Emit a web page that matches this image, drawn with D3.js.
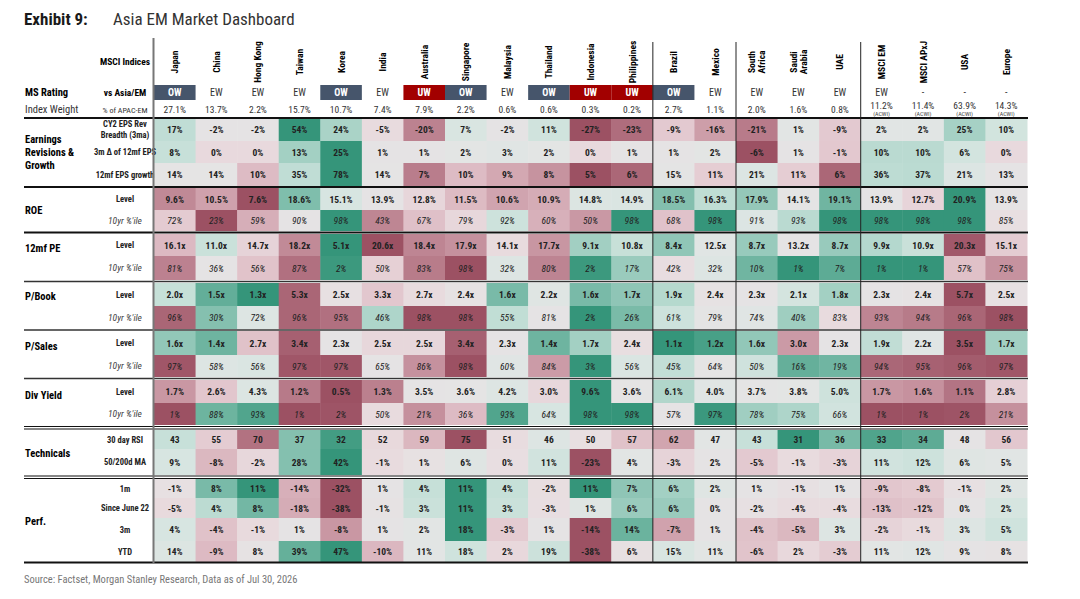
<!DOCTYPE html>
<html><head><meta charset="utf-8">
<script src="https://cdn.jsdelivr.net/npm/d3@7"></script>
<style>
body{margin:0;background:#fff;}
text{font-family:"Liberation Sans Narrow","Roboto Condensed",Roboto,sans-serif;}
</style></head>
<body><svg id="chart" width="1080" height="599"></svg>
<script>
const countries = ["Japan","China","Hong Kong","Taiwan","Korea","India","Australia","Singapore","Malaysia","Thailand","Indonesia","Philippines","Brazil","Mexico","South|Africa","Saudi|Arabia","UAE","MSCI EM","MSCI APxJ","USA","Europe"];
const ratings = ["OW","EW","EW","EW","OW","EW","UW","OW","EW","OW","UW","UW","OW","EW","EW","EW","EW","EW","-","-","-"];
const weights = ["27.1%","13.7%","2.2%","15.7%","10.7%","7.4%","7.9%","2.2%","0.6%","0.6%","0.3%","0.2%","2.7%","1.1%","2.0%","1.6%","0.8%","11.2%","11.4%","63.9%","14.3%"];

const epsBreadth = ["17%","-2%","-2%","54%","24%","-5%","-20%","7%","-2%","11%","-27%","-23%","-9%","-16%","-21%","1%","-9%","2%","2%","25%","10%"];
const epsDelta   = ["8%","0%","0%","13%","25%","1%","1%","2%","3%","2%","0%","1%","1%","2%","-6%","1%","-1%","10%","10%","6%","0%"];
const epsGrowth  = ["14%","14%","10%","35%","78%","14%","7%","10%","9%","8%","5%","6%","15%","11%","21%","11%","6%","36%","37%","21%","13%"];
const roeLevel   = ["9.6%","10.5%","7.6%","18.6%","15.1%","13.9%","12.8%","11.5%","10.6%","10.9%","14.8%","14.9%","18.5%","16.3%","17.9%","14.1%","19.1%","13.9%","12.7%","20.9%","13.9%"];
const roePct     = ["72%","23%","59%","90%","98%","43%","67%","79%","92%","60%","50%","98%","68%","98%","91%","93%","98%","98%","98%","98%","85%"];
const peLevel    = ["16.1x","11.0x","14.7x","18.2x","5.1x","20.6x","18.4x","17.9x","14.1x","17.7x","9.1x","10.8x","8.4x","12.5x","8.7x","13.2x","8.7x","9.9x","10.9x","20.3x","15.1x"];
const pePct      = ["81%","36%","56%","87%","2%","50%","83%","98%","32%","80%","2%","17%","42%","32%","10%","1%","7%","1%","1%","57%","75%"];
const pbLevel    = ["2.0x","1.5x","1.3x","5.3x","2.5x","3.3x","2.7x","2.4x","1.6x","2.2x","1.6x","1.7x","1.9x","2.4x","2.3x","2.1x","1.8x","2.3x","2.4x","5.7x","2.5x"];
const pbPct      = ["96%","30%","72%","96%","95%","46%","98%","98%","55%","81%","2%","26%","61%","79%","74%","40%","83%","93%","94%","96%","98%"];
const psLevel    = ["1.6x","1.4x","2.7x","3.4x","2.3x","2.5x","2.5x","3.4x","2.3x","1.4x","1.7x","2.4x","1.1x","1.2x","1.6x","3.0x","2.3x","1.9x","2.2x","3.5x","1.7x"];
const psPct      = ["97%","58%","56%","97%","97%","65%","86%","98%","60%","84%","3%","56%","45%","64%","50%","16%","19%","94%","95%","96%","97%"];
const dyLevel    = ["1.7%","2.6%","4.3%","1.2%","0.5%","1.3%","3.5%","3.6%","4.2%","3.0%","9.6%","3.6%","6.1%","4.0%","3.7%","3.8%","5.0%","1.7%","1.6%","1.1%","2.8%"];
const dyPct      = ["1%","88%","93%","1%","2%","50%","21%","36%","93%","64%","98%","98%","57%","97%","78%","75%","66%","1%","1%","2%","21%"];
const rsi        = ["43","55","70","37","32","52","59","75","51","46","50","57","62","47","43","31","36","33","34","48","56"];
const maRatio    = ["9%","-8%","-2%","28%","42%","-1%","1%","6%","0%","11%","-23%","4%","-3%","2%","-5%","-1%","-3%","11%","12%","6%","5%"];
const perf1m     = ["-1%","8%","11%","-14%","-32%","1%","4%","11%","4%","-2%","11%","7%","6%","2%","1%","-1%","1%","-9%","-8%","-1%","2%"];
const perfJune   = ["-5%","4%","8%","-18%","-38%","-1%","3%","11%","3%","-3%","1%","6%","6%","0%","-2%","-4%","-4%","-13%","-12%","0%","2%"];
const perf3m     = ["4%","-4%","-1%","1%","-8%","1%","2%","18%","-3%","1%","-14%","14%","-7%","1%","-4%","-5%","3%","-2%","-1%","3%","5%"];
const perfYtd    = ["14%","-9%","8%","39%","47%","-10%","11%","18%","2%","19%","-38%","6%","15%","11%","-6%","2%","-3%","11%","12%","9%","8%"];

const rows = [
  {label:"CY2 EPS Rev|Breadth (3ma)", vals:epsBreadth, dir:1, y0:118, y1:141},
  {label:"3m Δ of 12mf EPS", vals:epsDelta, dir:1, y0:141, y1:163},
  {label:"12mf EPS growth", vals:epsGrowth, dir:1, y0:163, y1:186},
  {label:"Level", vals:roeLevel, dir:1, y0:188, y1:210},
  {label:"10yr %'ile", it:true, vals:roePct, dir:1, y0:210, y1:231},
  {label:"Level", vals:peLevel, dir:-1, y0:234, y1:256},
  {label:"10yr %'ile", it:true, vals:pePct, dir:-1, y0:256, y1:280},
  {label:"Level", vals:pbLevel, dir:-1, y0:283, y1:306},
  {label:"10yr %'ile", it:true, vals:pbPct, dir:-1, y0:306, y1:329},
  {label:"Level", vals:psLevel, dir:-1, y0:331, y1:355},
  {label:"10yr %'ile", it:true, vals:psPct, dir:-1, y0:355, y1:377},
  {label:"Level", vals:dyLevel, dir:1, y0:380, y1:403},
  {label:"10yr %'ile", it:true, vals:dyPct, dir:1, y0:403, y1:425},
  {label:"30 day RSI", vals:rsi, dir:-1, y0:430, y1:449},
  {label:"50/200d MA", vals:maRatio, dir:1, y0:449, y1:475},
  {label:"1m", vals:perf1m, dir:1, y0:479, y1:498},
  {label:"Since June 22", vals:perfJune, dir:1, y0:498, y1:518},
  {label:"3m", vals:perf3m, dir:1, y0:518, y1:541},
  {label:"YTD", vals:perfYtd, dir:1, y0:541, y1:562}
];
const groupSpans = {"Earnings|Revisions &|Growth":[118,186],"ROE":[188,231],"12mf PE":[234,262],"P/Book":[283,309],"P/Sales":[331,360],"Div Yield":[380,410],"Technicals":[430,475],"Perf.":[479,562]};

const svg = d3.select("#chart");
const x = d3.scaleBand().domain(countries).range([154, 1027]).paddingInner(0);
const bw = x.bandwidth();
const interp = d3.interpolateRgbBasis(["#9c5163","#d7aab5","#f8f5f6","#a9d5c8","#35957a"]);

svg.append("text").attr("x",24).attr("y",25).attr("font-family","Roboto").attr("font-weight","bold")
  .attr("font-size",17).attr("fill","#1a1a1a").text("Exhibit 9:");
svg.append("text").attr("x",113).attr("y",25).attr("font-family","Roboto")
  .attr("font-size",17).attr("fill","#333").text("Asia EM Market Dashboard");

// header
svg.append("text").attr("x",125).attr("y",65).attr("text-anchor","middle").attr("font-weight","bold").attr("font-size",9.5).text("MSCI Indices");
countries.forEach(c => {
  const parts = c.split("|"), cx = x(c) + bw/2;
  parts.forEach((p, i) => {
    const off = (i - (parts.length-1)/2) * 10;
    svg.append("text").attr("transform", `translate(${cx + off + 3.5},62) rotate(-90)`)
      .attr("text-anchor","middle").attr("font-weight","bold").attr("font-size",9.5).text(p);
  });
});
svg.append("text").attr("x",25).attr("y",96).attr("font-weight","bold").attr("font-size",10.5).text("MS Rating");
svg.append("text").attr("x",125).attr("y",96).attr("text-anchor","middle").attr("font-weight","bold").attr("font-size",9.5).text("vs Asia/EM");
svg.append("text").attr("x",25).attr("y",113).attr("font-size",10.5).attr("fill","#333").text("Index Weight");
svg.append("text").attr("x",125).attr("y",113).attr("text-anchor","middle").attr("font-size",8).attr("fill","#333").text("% of APAC-EM");
countries.forEach((c, i) => {
  const cx = x(c) + bw/2, r = ratings[i];
  if (r === "OW" || r === "UW") {
    svg.append("rect").attr("x",x(c)).attr("y",85).attr("width",bw).attr("height",15)
      .attr("fill", r === "OW" ? "#46556b" : "#a20000");
  }
  svg.append("text").attr("x",cx).attr("y",96).attr("text-anchor","middle").attr("font-size",10)
    .attr("font-weight", r === "EW" || r === "-" ? "normal" : "bold")
    .attr("fill", r === "EW" || r === "-" ? "#333" : "#fff").text(r);
  const agg = i >= 17;
  svg.append("text").attr("x",cx).attr("y",agg ? 109 : 113).attr("text-anchor","middle").attr("font-size",9.5).attr("fill","#333").text(weights[i]);
  if (agg) svg.append("text").attr("x",cx).attr("y",116).attr("text-anchor","middle").attr("font-size",6).attr("fill","#444").text("(ACWI)");
});

// cells
rows.forEach(r => {
  const nums = r.vals.map(v => parseFloat(v));
  const med = d3.median(nums), mn = d3.min(nums), mx = d3.max(nums);
  const col = d3.scaleDiverging().domain(r.dir > 0 ? [mn, med, mx] : [mx, med, mn]).interpolator(interp);
  countries.forEach((c, i) => {
    svg.append("rect").attr("x",x(c)).attr("y",r.y0).attr("width",bw+0.5).attr("height",r.y1-r.y0).attr("fill",col(nums[i]));
    svg.append("text").attr("x",x(c)+bw/2).attr("y",(r.y0+r.y1)/2+3.5).attr("text-anchor","middle")
      .attr("font-size",9.5).attr("font-weight", r.it ? "normal" : "bold").attr("font-style", r.it ? "italic" : "normal")
      .attr("fill","#222").text(r.vals[i]);
  });
  const lp = r.label.split("|");
  lp.forEach((p, k) => {
    svg.append("text").attr("x",125).attr("y",(r.y0+r.y1)/2+3+(k-(lp.length-1)/2)*11).attr("text-anchor","middle")
      .attr("font-size", r.it ? 9.5 : 8.5).attr("font-weight", r.it ? "normal" : "bold").attr("font-style", r.it ? "italic" : "normal")
      .attr("fill", r.it ? "#444" : "#222").text(p);
  });
});
Object.entries(groupSpans).forEach(([g, s]) => {
  const gp = g.split("|"), cy = (s[0]+s[1])/2;
  gp.forEach((p, k) => svg.append("text").attr("x",25).attr("y",cy+4+(k-(gp.length-1)/2)*13)
    .attr("font-weight","bold").attr("font-size",10.5).text(p));
});

// rules
const hl = (y, w, c) => svg.append("line").attr("x1",24).attr("x2",1028).attr("y1",y).attr("y2",y).attr("stroke",c||"#111").attr("stroke-width",w);
hl(118,2); hl(187,2); hl(232.5,2); hl(281.5,1.5,"#333"); hl(330,1.5,"#333"); hl(378.5,1.5,"#333");
hl(426.5,1.2); hl(429,1.2); hl(476,1.2); hl(478.5,1.2); hl(562.5,2);
svg.append("line").attr("x1",153.5).attr("x2",153.5).attr("y1",38).attr("y2",563).attr("stroke","#777").attr("stroke-width",2);
["Brazil","South|Africa","MSCI EM"].forEach(c => svg.append("line").attr("x1",x(c)).attr("x2",x(c))
  .attr("y1",42).attr("y2",563).attr("stroke","#222").attr("stroke-width",1));

svg.append("text").attr("x",24).attr("y",583).attr("font-family","Roboto").attr("font-size",10.5).attr("fill","#777")
  .text("Source: Factset, Morgan Stanley Research, Data as of Jul 30, 2026");
</script></body></html>
